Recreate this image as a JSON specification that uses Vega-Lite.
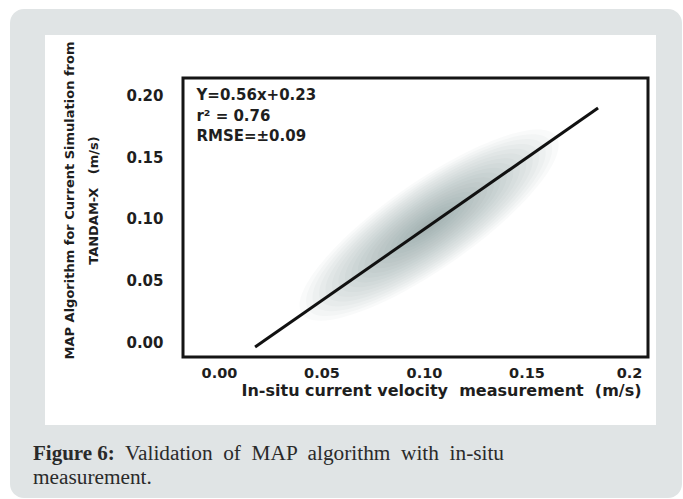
{
  "$schema": "https://vega.github.io/schema/vega-lite/v6.json",
  "width": 465,
  "height": 279,
  "autosize": {"type": "none"},
  "padding": {"left": 183, "top": 78, "right": 35, "bottom": 142},
  "background": "#ffffff",
  "config": {"view": {"stroke": null}, "font": "DejaVu Sans"},
  "encoding": {
    "x": {
      "field": "x",
      "type": "quantitative",
      "scale": {"domain": [-0.017561, 0.209268], "nice": false, "zero": false},
      "axis": {
        "zindex": 2,
        "values": [0, 0.05, 0.1, 0.15, 0.2],
        "labelExpr": "datum.value == 0.2 ? '0.2' : format(datum.value, '.2f')",
        "domain": false,
        "ticks": false,
        "grid": false,
        "labelFlush": false,
        "labelOverlap": false,
        "labelFont": "DejaVu Sans",
        "labelFontWeight": "bold",
        "labelFontSize": 14.5,
        "labelColor": "#1e1e1e",
        "labelPadding": 9,
        "title": "In-situ current velocity\u00a0 measurement\u00a0 (m/s)",
        "titleFont": "DejaVu Sans",
        "titleFontWeight": "bold",
        "titleFontSize": 16,
        "titleColor": "#1e1e1e",
        "titleX": 258,
        "titleY": 25,
        "titleBaseline": "top",
        "titleAlign": "center"
      }
    },
    "y": {
      "field": "y",
      "type": "quantitative",
      "scale": {"domain": [-0.012195, 0.214634], "nice": false, "zero": false},
      "axis": {
        "zindex": 2,
        "values": [0, 0.05, 0.1, 0.15, 0.2],
        "format": ".2f",
        "domain": false,
        "ticks": false,
        "grid": false,
        "labelOverlap": false,
        "labelFlush": false,
        "labelFont": "DejaVu Sans",
        "labelFontWeight": "bold",
        "labelFontSize": 15,
        "labelColor": "#1e1e1e",
        "labelPadding": 20,
        "title": ["MAP Algorithm for Current Simulation from", "TANDAM-X\u00a0\u00a0 (m/s)"],
        "titleFont": "DejaVu Sans",
        "titleFontWeight": "bold",
        "titleFontSize": 13,
        "titleColor": "#1e1e1e",
        "titleAngle": -90,
        "titleX": -120,
        "titleY": 122,
        "titleBaseline": "top",
        "titleAlign": "center",
        "titleLineHeight": 24
      }
    }
  },
  "layer": [
    {
      "data": {"values": [{"x": -0.10195, "x2": 0.22585, "y": 0.27073, "y2": -0.12683}]},
      "mark": {"type": "rect", "fill": "#e0e4e5", "cornerRadius": 14},
      "encoding": {"x2": {"field": "x2"}, "y2": {"field": "y2"}}
    },
    {
      "data": {"values": [{"x": -0.08488, "x2": 0.21317, "y": 0.2496, "y2": -0.06748}]},
      "mark": {"type": "rect", "fill": "#ffffff"},
      "encoding": {"x2": {"field": "x2"}, "y2": {"field": "y2"}}
    },
    {
      "data": {"values": [
        {"x": 0.1025, "y": 0.095, "level": 1},
        {"x": 0.1025, "y": 0.095, "level": 2},
        {"x": 0.1025, "y": 0.095, "level": 3},
        {"x": 0.1025, "y": 0.095, "level": 4},
        {"x": 0.1025, "y": 0.095, "level": 5},
        {"x": 0.1025, "y": 0.095, "level": 6},
        {"x": 0.1025, "y": 0.095, "level": 7},
        {"x": 0.1025, "y": 0.095, "level": 8},
        {"x": 0.1025, "y": 0.095, "level": 9},
        {"x": 0.1025, "y": 0.095, "level": 10},
        {"x": 0.1025, "y": 0.095, "level": 11},
        {"x": 0.1025, "y": 0.095, "level": 12},
        {"x": 0.1025, "y": 0.095, "level": 13},
        {"x": 0.1025, "y": 0.095, "level": 14},
        {"x": 0.1025, "y": 0.095, "level": 15},
        {"x": 0.1025, "y": 0.095, "level": 16},
        {"x": 0.1025, "y": 0.095, "level": 17},
        {"x": 0.1025, "y": 0.095, "level": 18},
        {"x": 0.1025, "y": 0.095, "level": 19},
        {"x": 0.1025, "y": 0.095, "level": 20}
      ]},
      "mark": {
        "type": "point",
        "shape": "M-1,0A1,0.28,0,1,1,1,0A1,0.28,0,1,1,-1,0Z",
        "filled": true,
        "color": "#5f7b80",
        "opacity": 0.04,
        "strokeWidth": 0,
        "angle": 325.1
      },
      "encoding": {
        "size": {
          "field": "level",
          "type": "quantitative",
          "scale": {"type": "pow", "exponent": 2, "domain": [0, 20], "range": [0, 96100]},
          "legend": null
        }
      }
    },
    {
      "data": {"values": [{"x": 0.0176, "y": -0.0041}, {"x": 0.1849, "y": 0.1902}]},
      "mark": {"type": "line", "color": "#111111", "strokeWidth": 3},
      "encoding": {}
    },
    {
      "data": {"values": [{"x": -0.017561, "x2": 0.209268, "y": -0.012195, "y2": 0.214634}]},
      "mark": {"type": "rect", "fillOpacity": 0, "stroke": "#151515", "strokeWidth": 3},
      "encoding": {"x2": {"field": "x2"}, "y2": {"field": "y2"}}
    },
    {
      "data": {"values": [{"x": -0.011, "y": 0.2065, "label": "Y=0.56x+0.23\nr² = 0.76\nRMSE=±0.09"}]},
      "mark": {
        "type": "text",
        "align": "left",
        "baseline": "top",
        "lineBreak": "\n",
        "lineHeight": 20.5,
        "font": "DejaVu Sans",
        "fontWeight": "bold",
        "fontSize": 15,
        "color": "#1e1e1e"
      },
      "encoding": {"text": {"field": "label"}}
    },
    {
      "data": {"values": [{"x": -0.09073, "y": -0.09593, "label": "Figure 6:"}]},
      "mark": {
        "type": "text",
        "align": "left",
        "baseline": "alphabetic",
        "font": "Liberation Serif",
        "fontWeight": "bold",
        "fontSize": 21,
        "color": "#2a2a2a"
      },
      "encoding": {"text": {"field": "label"}}
    },
    {
      "data": {"values": [
        {"x": -0.04585, "y": -0.09593, "label": "Validation \u00a0of \u00a0MAP \u00a0algorithm \u00a0with \u00a0in-situ"},
        {"x": -0.09073, "y": -0.11545, "label": "measurement."}
      ]},
      "mark": {
        "type": "text",
        "align": "left",
        "baseline": "alphabetic",
        "font": "Liberation Serif",
        "fontSize": 21.3,
        "color": "#2a2a2a"
      },
      "encoding": {"text": {"field": "label"}}
    }
  ]
}
